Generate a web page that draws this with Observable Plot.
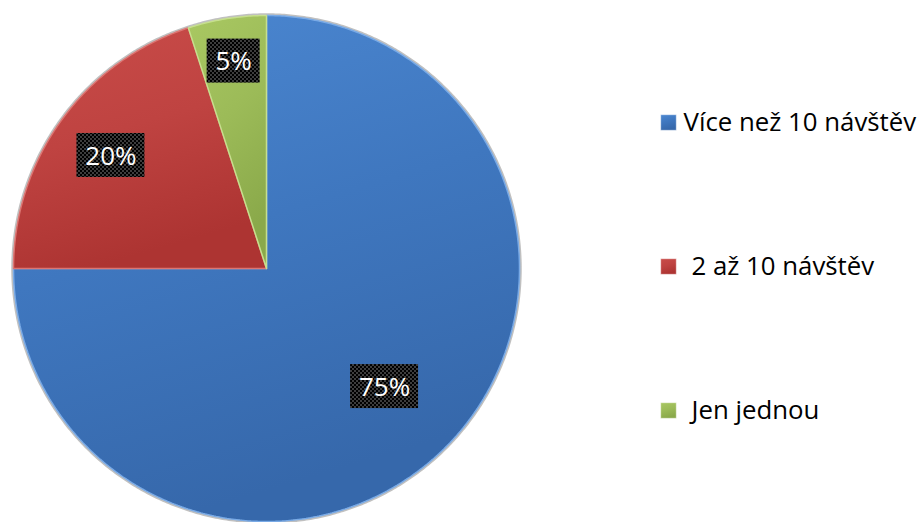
<!DOCTYPE html>
<html>
<head>
<meta charset="utf-8">
<script src="https://cdn.jsdelivr.net/npm/d3@7"></script>
<script src="https://cdn.jsdelivr.net/npm/@observablehq/plot@0.6"></script>
<style>
  html, body { margin: 0; padding: 0; background: #ffffff; }
  #chart { width: 920px; height: 522px; }
</style>
</head>
<body>
<div id="chart"></div>
<script>
// ---- data ----
const categories = ["Více než 10 návštěv", "2 až 10 návštěv", "Jen jednou"];
const values = [75, 20, 5];
const valueLabels = ["75%", "20%", "5%"];

// ---- styling (not data) ----
const gradIds = ["gBlue", "gRed", "gGreen"];
const gradStops = [
  ["#4c88d2", "#3f77bf", "#3668ab"],
  ["#c94c49", "#bf4341", "#ad3432"],
  ["#a9c862", "#9cbb58", "#8aa94a"]
];
const edgeColors = ["#79aae6", "#dc7572", "#c6df8e"];
const labelRadius = [0.66, 0.76, 0.83];
const FONT = "'Open Sans', 'DejaVu Sans', sans-serif";

const CX = 266, CY = 268, R = 253;
const toX = px => (px - CX) / R;
const toY = py => (CY - py) / R;

// pie geometry from the values
const arcs = d3.pie().sort(null).value(d => d.value)(
  categories.map((c, i) => ({category: c, value: values[i], label: valueLabels[i], i}))
);

function slicePoints(a) {
  const pts = [{x: 0, y: 0, cat: a.data.category}];
  const n = Math.max(2, Math.ceil((a.endAngle - a.startAngle) / (Math.PI / 360)));
  for (let k = 0; k <= n; k++) {
    const t = a.startAngle + (a.endAngle - a.startAngle) * k / n;
    pts.push({x: Math.sin(t), y: Math.cos(t), cat: a.data.category});
  }
  pts.push({x: 0, y: 0, cat: a.data.category});
  return pts;
}

const ring = d3.range(0, 721).map(k => {
  const t = k / 720 * 2 * Math.PI;
  return {x: 1.004 * Math.sin(t), y: 1.004 * Math.cos(t)};
});

const labelData = arcs.map(a => {
  const m = (a.startAngle + a.endAngle) / 2;
  const r = labelRadius[a.data.i];
  const w = 23 + 15 * a.data.label.length;
  return {
    label: a.data.label,
    x: r * Math.sin(m), y: r * Math.cos(m),
    w: w / R, h: 44 / R
  };
});

const legendData = categories.map((c, i) => ({
  name: c, i,
  y: toY(122 + i * 144),
  sx: toX(668),
  tx: toX(i === 0 ? 683 : 691)
}));

const marks = [
  Plot.line(ring, {x: "x", y: "y", stroke: "#b0b0b0", strokeWidth: 2.5, strokeOpacity: 0.8})
];
arcs.forEach((a, i) => {
  marks.push(Plot.line(slicePoints(a), {
    x: "x", y: "y",
    fill: `url(#${gradIds[i]})`,
    stroke: edgeColors[i], strokeWidth: 1.5, strokeLinejoin: "miter"
  }));
});
marks.push(
  Plot.rect(labelData, {
    x1: d => d.x - d.w / 2, x2: d => d.x + d.w / 2,
    y1: d => d.y - d.h / 2, y2: d => d.y + d.h / 2,
    fill: "url(#checker)"
  }),
  Plot.text(labelData, {
    x: "x", y: "y", text: "label",
    fill: "white", fontSize: 26, fontFamily: FONT, dy: 1
  }),
  Plot.dot(legendData, {
    x: "sx", y: "y", symbol: "square", r: 8.8,
    fill: d => `url(#${gradIds[d.i]})`, stroke: "#ffffff", strokeWidth: 0.5
  }),
  Plot.text(legendData, {
    x: "tx", y: "y", text: "name", textAnchor: "start",
    fill: "#000000", fontSize: 25.8, fontFamily: FONT
  })
);

const chart = Plot.plot({
  width: 920,
  height: 522,
  margin: 0,
  style: {background: "white", overflow: "visible"},
  x: {domain: [-1, 1], range: [CX - R, CX + R], axis: null},
  y: {domain: [-1, 1], range: [CY + R, CY - R], axis: null},
  color: {type: "identity"},
  marks
});

// gradient & pattern definitions
const ns = "http://www.w3.org/2000/svg";
const svgEl = chart.tagName.toLowerCase() === "svg" ? chart : chart.querySelector("svg");
const defs = document.createElementNS(ns, "defs");
gradIds.forEach((id, i) => {
  const g = document.createElementNS(ns, "linearGradient");
  g.setAttribute("id", id);
  g.setAttribute("x1", "0"); g.setAttribute("y1", "0");
  g.setAttribute("x2", "0.3"); g.setAttribute("y2", "1");
  gradStops[i].forEach((c, k) => {
    const s = document.createElementNS(ns, "stop");
    s.setAttribute("offset", String(k / (gradStops[i].length - 1)));
    s.setAttribute("stop-color", c);
    g.appendChild(s);
  });
  defs.appendChild(g);
});
const pat = document.createElementNS(ns, "pattern");
pat.setAttribute("id", "checker");
pat.setAttribute("width", "4"); pat.setAttribute("height", "4");
pat.setAttribute("patternUnits", "userSpaceOnUse");
[["0","0","4","4","#000000"],["0","0","2","2","#3d3d3d"],["2","2","2","2","#3d3d3d"]].forEach(([x,y,w,h,f]) => {
  const r = document.createElementNS(ns, "rect");
  r.setAttribute("x", x); r.setAttribute("y", y);
  r.setAttribute("width", w); r.setAttribute("height", h);
  r.setAttribute("fill", f);
  pat.appendChild(r);
});
defs.appendChild(pat);
svgEl.insertBefore(defs, svgEl.firstChild);

document.getElementById("chart").appendChild(chart);
</script>
</body>
</html>
